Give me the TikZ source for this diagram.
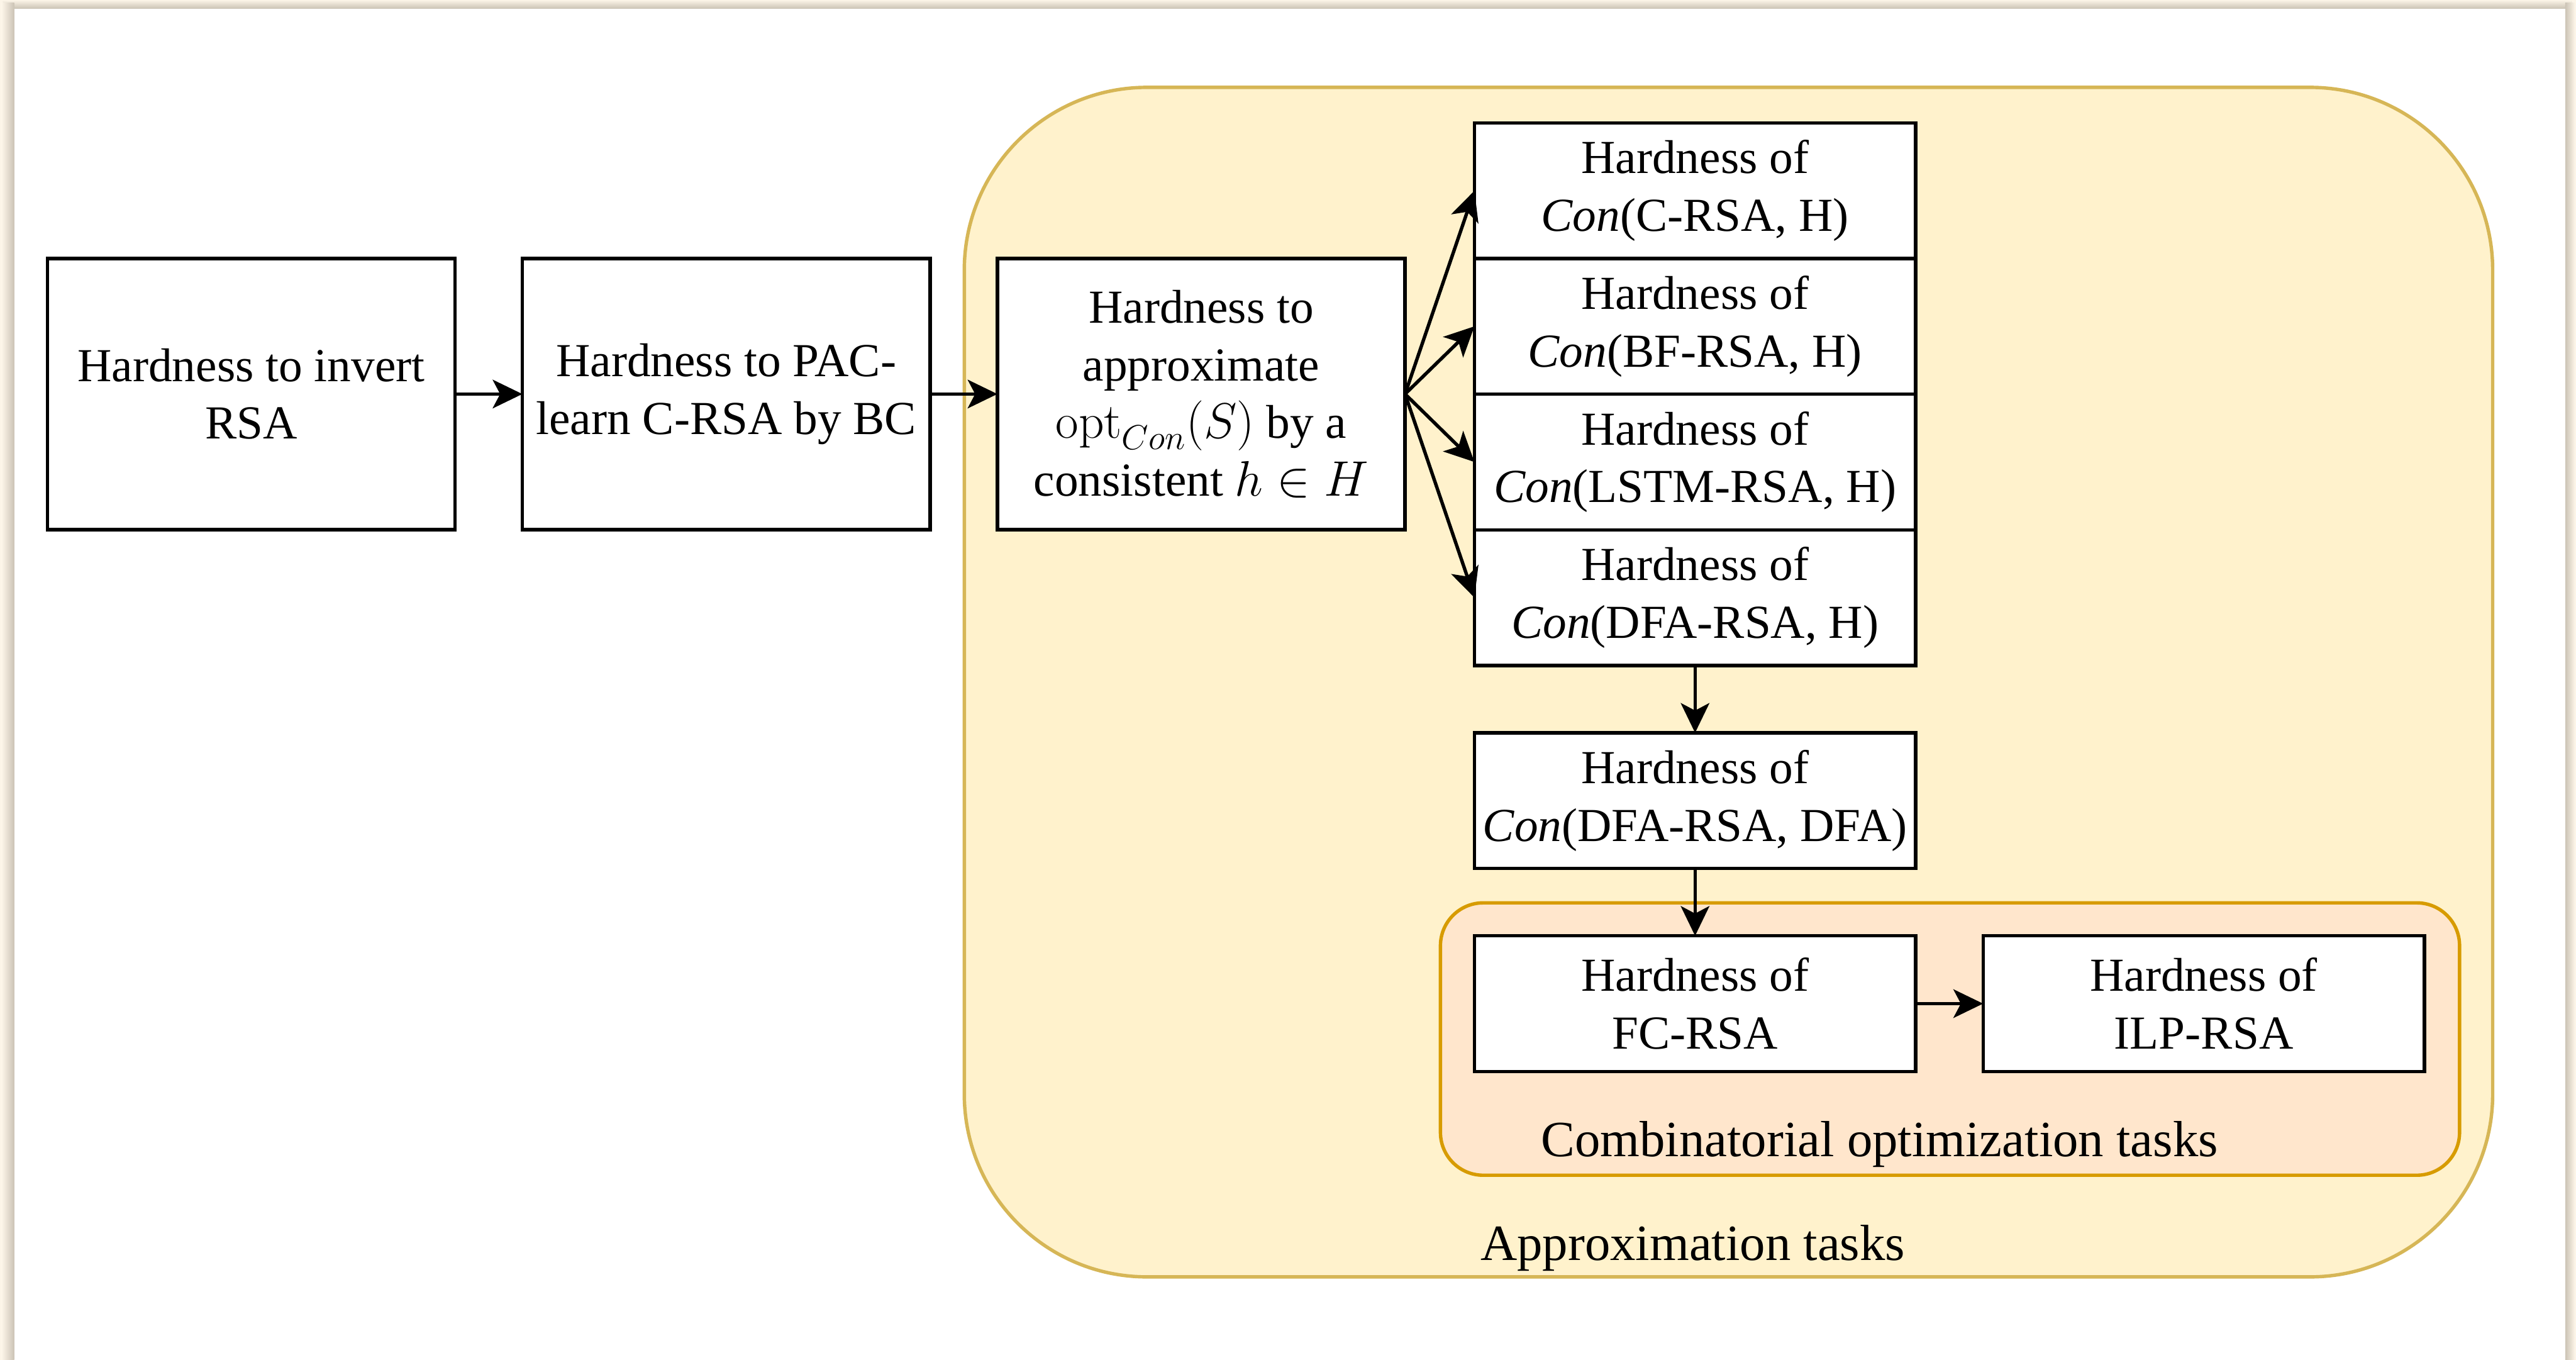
\documentclass[tikz,border=0pt]{standalone}
\usepackage[no-math]{fontspec}
\setmainfont{Liberation Serif}
\usepackage{tikz}
\usetikzlibrary{positioning, arrows.meta, fit}
\definecolor{approxfill}{HTML}{FFF2CC}
\definecolor{approxline}{HTML}{D6B656}
\definecolor{combfill}{HTML}{FFE6CC}
\definecolor{combline}{HTML}{D79B00}
\definecolor{pagecream}{HTML}{FCF5E8}
\definecolor{pageshadow}{HTML}{CBC3B5}
\tikzstyle{hardness} = [rectangle, minimum width=7.14cm, minimum height=4.75cm, text centered, align=center, draw=black, fill=white, line width=1.7pt, inner sep=0pt, outer sep=0pt, font=\fontsize{23.6}{28.7}\selectfont]
\tikzstyle{consist} = [hardness, minimum width=7.73cm, minimum height=2.375cm]
\tikzstyle{arrow} = [line width=1.7pt, -{Stealth[length=0.52cm, width=0.5cm, inset=0.13cm]}]
\tikzstyle{group} = [rectangle, line width=1.7pt, inner sep=0pt]
\tikzstyle{grouplabel} = [anchor=base, inner sep=0pt, font=\fontsize{25.3}{30}\selectfont]

\begin{document}
\begin{tikzpicture}

    % Page
    \useasboundingbox (0,0) rectangle (45.12,-23.81);
    \fill[pagecream] (0,0) rectangle (45.12,-23.81);
    \shade[top color=pagecream, bottom color=pageshadow] (0.05,0) rectangle (45.05,-0.15);
    \shade[left color=pagecream, right color=pageshadow] (0.03,-0.05) rectangle (0.25,-23.81);
    \shade[left color=pageshadow, right color=pagecream] (44.93,-0.05) rectangle (45.10,-23.81);
    \fill[white] (0.25,-0.15) rectangle (44.93,-23.81);

    % Group boxes
    \coordinate (approxNW) at (16.89,-1.53);
    \coordinate (approxSE) at (43.66,-22.36);
    \node[group, draw=approxline, fill=approxfill, rounded corners=3.2cm, fit={(approxNW)(approxSE)}] (approxgroup) {};
    \coordinate (combNW) at (25.23,-15.81);
    \coordinate (combSE) at (43.08,-20.58);
    \node[group, draw=combline, fill=combfill, rounded corners=0.75cm, fit={(combNW)(combSE)}] (combgroup) {};
    \node[grouplabel] (approxlabel) at (29.65,-22.07) {Approximation tasks};
    \node[grouplabel] (comblabel) at (32.92,-20.25) {Combinatorial optimization tasks};

    % Nodes
    \node (invert) [hardness] at (4.40,-6.90) {Hardness to invert\\RSA};
    \node (paclearn) [hardness, right=1.18cm of invert] {Hardness to PAC-\\learn C-RSA by BC};
    \node (approx) [hardness, right=1.18cm of paclearn] {Hardness to\\approximate\\$\mathrm{opt}_{Con}(S)$ by a\\consistent $h \in H$};
    \node (conC) [consist] at (29.69,-3.34) {Hardness of\\\textit{Con}(C-RSA, H)};
    \node (conBF) [consist, below=0cm of conC] {Hardness of\\\textit{Con}(BF-RSA, H)};
    \node (conLSTM) [consist, below=0cm of conBF] {Hardness of\\\textit{Con}(LSTM-RSA, H)};
    \node (conDFAH) [consist, below=0cm of conLSTM] {Hardness of\\\textit{Con}(DFA-RSA, H)};
    \node (conDFA) [consist, below=1.18cm of conDFAH] {Hardness of\\\textit{Con}(DFA-RSA, DFA)};
    \node (fcrsa) [consist, below=1.18cm of conDFA] {Hardness of\\FC-RSA};
    \node (ilprsa) [consist, right=1.18cm of fcrsa] {Hardness of\\ILP-RSA};

    % Arrows
    \draw [arrow] (invert) -- (paclearn);
    \draw [arrow] (paclearn) -- (approx);
    \foreach \target in {conC, conBF, conLSTM, conDFAH}
        \draw [arrow] (approx.east) -- (\target.west);
    \draw [arrow] (conDFAH) -- (conDFA);
    \draw [arrow] (conDFA) -- (fcrsa);
    \draw [arrow] (fcrsa) -- (ilprsa);

\end{tikzpicture}
\end{document}
